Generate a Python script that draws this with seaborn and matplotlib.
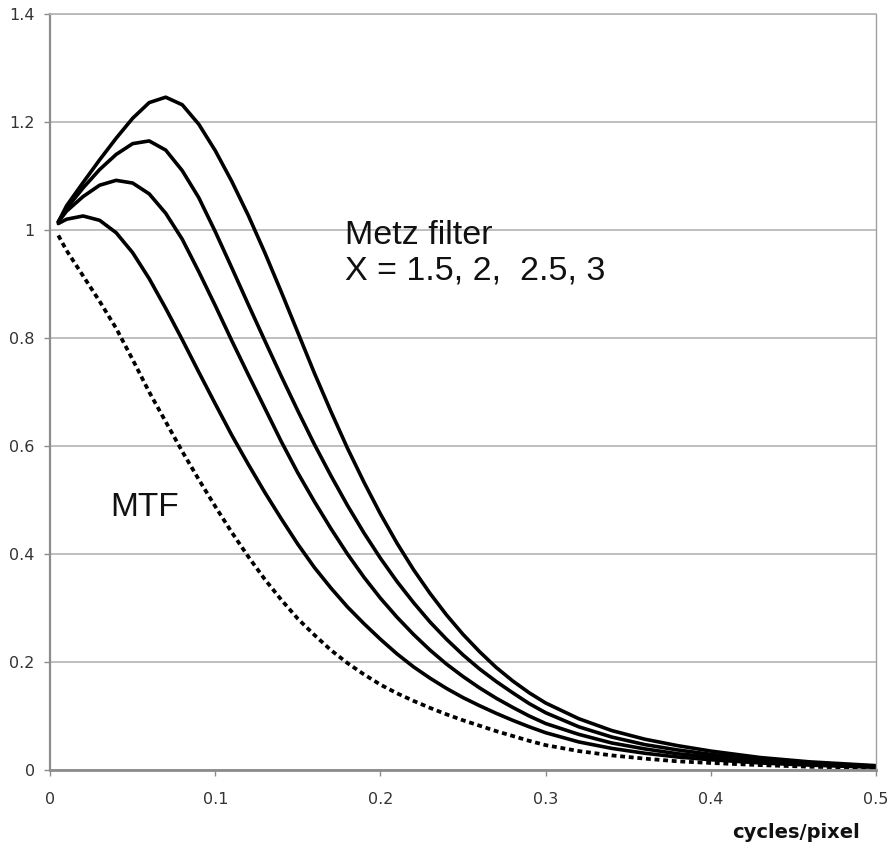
import numpy as np
import pandas as pd
import matplotlib
matplotlib.use("Agg")
import matplotlib.pyplot as plt
import seaborn as sns

# spatial frequency (cycles/pixel)
freq = [0.005, 0.01, 0.02, 0.03, 0.04, 0.05, 0.06, 0.07, 0.08, 0.09, 0.10,
        0.11, 0.12, 0.13, 0.14, 0.15, 0.16, 0.17, 0.18, 0.19, 0.20,
        0.21, 0.22, 0.23, 0.24, 0.25, 0.26, 0.27, 0.28, 0.29, 0.30,
        0.32, 0.34, 0.36, 0.38, 0.40, 0.43, 0.46, 0.50]

mtf = [0.99, 0.962, 0.915, 0.868, 0.818, 0.76, 0.70, 0.645, 0.59, 0.538, 0.488,
       0.44, 0.395, 0.353, 0.315, 0.28, 0.25, 0.222, 0.198, 0.177, 0.158,
       0.142, 0.128, 0.115, 0.103, 0.092, 0.082, 0.072, 0.063, 0.054, 0.046,
       0.035, 0.027, 0.021, 0.016, 0.013, 0.009, 0.006, 0.004]

metz_x15 = [1.012, 1.02, 1.026, 1.018, 0.995, 0.958, 0.91, 0.855, 0.797, 0.737, 0.678,
            0.62, 0.566, 0.514, 0.465, 0.418, 0.375, 0.337, 0.302, 0.271, 0.242,
            0.215, 0.191, 0.17, 0.151, 0.134, 0.119, 0.105, 0.092, 0.08, 0.069,
            0.052, 0.04, 0.031, 0.024, 0.019, 0.013, 0.009, 0.005]

metz_x2 = [1.015, 1.035, 1.062, 1.083, 1.092, 1.087, 1.067, 1.031, 0.983, 0.923, 0.86,
           0.795, 0.732, 0.67, 0.608, 0.55, 0.497, 0.447, 0.40, 0.357, 0.318,
           0.283, 0.251, 0.222, 0.196, 0.173, 0.152, 0.133, 0.116, 0.10, 0.086,
           0.066, 0.05, 0.039, 0.03, 0.024, 0.016, 0.011, 0.006]

metz_x25 = [1.015, 1.04, 1.078, 1.112, 1.14, 1.16, 1.165, 1.148, 1.11, 1.06, 0.997,
            0.93, 0.862, 0.795, 0.729, 0.665, 0.603, 0.545, 0.49, 0.439, 0.392,
            0.349, 0.31, 0.274, 0.242, 0.213, 0.187, 0.164, 0.143, 0.123, 0.106,
            0.08, 0.061, 0.047, 0.037, 0.029, 0.019, 0.013, 0.007]

metz_x3 = [1.015, 1.045, 1.088, 1.13, 1.17, 1.207, 1.236, 1.246, 1.232, 1.196, 1.147,
           1.09, 1.027, 0.958, 0.885, 0.81, 0.735, 0.664, 0.596, 0.533, 0.474,
           0.42, 0.371, 0.327, 0.287, 0.251, 0.219, 0.19, 0.165, 0.143, 0.124,
           0.095, 0.073, 0.057, 0.045, 0.035, 0.023, 0.015, 0.008]

x_ticks = [0, 0.1, 0.2, 0.3, 0.4, 0.5]
x_tick_labels = ["0", "0.1", "0.2", "0.3", "0.4", "0.5"]
y_ticks = [0, 0.2, 0.4, 0.6, 0.8, 1.0, 1.2, 1.4]
y_tick_labels = ["0", "0.2", "0.4", "0.6", "0.8", "1", "1.2", "1.4"]

sns.set_theme(style="white")
plt.rcParams["font.family"] = ["DejaVu Sans"]

fig = plt.figure(figsize=(8.94, 8.51), dpi=100)
ax = fig.add_axes([0.056, 0.0952, 0.924, 0.8883])

df = pd.DataFrame({"freq": freq, "mtf": mtf, "x15": metz_x15, "x2": metz_x2,
                   "x25": metz_x25, "x3": metz_x3})

for col in ["x15", "x2", "x25", "x3"]:
    sns.lineplot(data=df, x="freq", y=col, ax=ax, color="black", linewidth=2.6)
sns.lineplot(data=df, x="freq", y="mtf", ax=ax, color="black", linewidth=2.7,
             linestyle=(0, (1.3, 1.0)))

ax.set_xlim(0, 0.5)
ax.set_ylim(0, 1.4)
ax.set_xticks(x_ticks)
ax.set_xticklabels(x_tick_labels)
ax.set_yticks(y_ticks)
ax.set_yticklabels(y_tick_labels)
ax.set_xlabel("")
ax.set_ylabel("")
ax.yaxis.grid(True, color="#b4b4b4", linewidth=1.2)
ax.xaxis.grid(False)
ax.set_axisbelow(True)

for side, col, lw in [("left", "#8c8c8c", 1.6), ("bottom", "#8c8c8c", 2.0),
                      ("right", "#a0a0a0", 1.0), ("top", "#b4b4b4", 1.2)]:
    ax.spines[side].set_visible(True)
    ax.spines[side].set_color(col)
    ax.spines[side].set_linewidth(lw)

ax.tick_params(axis="x", direction="out", length=4, width=1, color="#8c8c8c",
               labelsize=11.5, labelcolor="#333333", pad=12, bottom=True)
ax.tick_params(axis="y", direction="out", length=4, width=1, color="#8c8c8c",
               labelsize=11.5, labelcolor="#333333", pad=7, left=True)

txt_font = ["Liberation Sans", "DejaVu Sans"]
ax.text(0.1786, 0.99, "Metz filter", fontsize=24.5, family=txt_font, va="center",
        ha="left", color="#111111")
ax.text(0.1786, 0.925, "X = 1.5, 2,  2.5, 3", fontsize=24.5, family=txt_font,
        va="center", ha="left", color="#111111")
ax.text(0.0363, 0.487, "MTF", fontsize=24, family=txt_font, va="center",
        ha="left", color="#111111")

fig.text(860 / 894, 1 - 833 / 851, "cycles/pixel", fontsize=14, fontweight="bold",
         ha="right", va="center", color="#111111")

fig.savefig("out.png", dpi=100, facecolor="white")
